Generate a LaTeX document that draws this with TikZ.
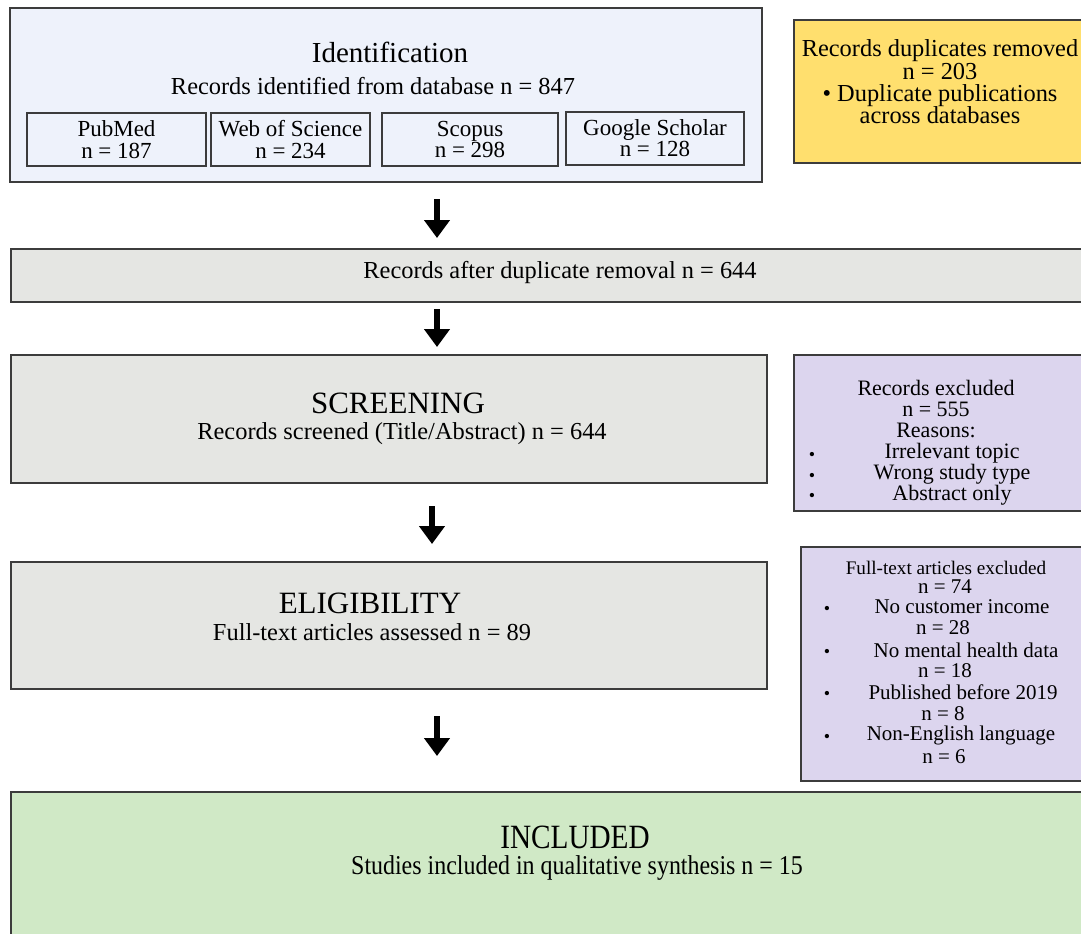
\documentclass[tikz,border=0pt]{standalone}
\usepackage{fontspec}
\setmainfont{Liberation Serif}
\usetikzlibrary{arrows.meta}
\definecolor{boxline}{HTML}{3C3C3C}
\definecolor{idblue}{HTML}{EEF2FB}
\definecolor{dupyellow}{HTML}{FFDF6E}
\definecolor{stagegray}{HTML}{E5E6E3}
\definecolor{exclpurple}{HTML}{DCD5EE}
\definecolor{inclgreen}{HTML}{D0E9C6}
\tikzset{
	stage/.style={draw=boxline, line width=1pt, rectangle, inner sep=0pt},
	dbbox/.style={stage, align=center, font=\fontsize{11.5}{10.8}\selectfont},
	flowarrow/.style={line width=3pt, -{Triangle[width=12.5pt,length=9pt]}},
	bigtitle/.style={font=\fontsize{14.5}{14.5}\selectfont},
	subline/.style={font=\fontsize{12.2}{12.2}\selectfont},
	dot/.style={font=\fontsize{9}{9}\selectfont, inner sep=0pt},
}
\begin{document}
\begin{tikzpicture}[x=0.5pt, y=-0.5pt]
			\useasboundingbox (0,0) rectangle (1081,933);
			%\draw[step=50,gray,very thin] (0,0) grid (1081,933);
			% boxes
			\node[stage, fill=idblue, minimum width=376pt, minimum height=87pt] (id) at (386,95) {};
			\node[stage, fill=dupyellow, minimum width=150.5pt, minimum height=71.5pt] (dup) at (944.5,91.5) {};
			\node[stage, fill=stagegray, minimum width=542pt, minimum height=26.5pt] (after) at (553,275.5) {};
			\node[stage, fill=stagegray, minimum width=378pt, minimum height=64pt] (screen) at (389,419) {};
			\node[stage, fill=exclpurple, minimum width=150.5pt, minimum height=78pt] (excl) at (944.5,433) {};
			\node[stage, fill=stagegray, minimum width=378pt, minimum height=63.5pt] (elig) at (389,625.5) {};
			\node[stage, fill=exclpurple, minimum width=147pt, minimum height=117pt] (ftexcl) at (948,664) {};
			\node[stage, fill=inclgreen, minimum width=542pt, minimum height=84pt] (incl) at (553,876) {};
			% databases
			\node[dbbox, minimum width=89.5pt, minimum height=26.5pt] (pubmed) at (116.5,139.5) {PubMed\\n = 187};
			\node[dbbox, minimum width=79.5pt, minimum height=26.5pt] (wos) at (290.5,139.5) {Web of Science\\n = 234};
			\node[dbbox, minimum width=88pt, minimum height=26.5pt] (scopus) at (470,139.5) {Scopus\\n = 298};
			\node[dbbox, minimum width=89pt, minimum height=26.5pt] (scholar) at (655,138) {Google Scholar\\n = 128};
			% texts
			\node[bigtitle] (idtitle) at (390,52) {Identification};
			\node[subline] (idtext) at (373,86) {Records identified from database n = 847};
			\node[subline, align=center, font=\fontsize{12.2}{11.2}\selectfont] (duptext) at (940,82) {Records duplicates removed\\n = 203\\\textbullet\ Duplicate publications\\across databases};
			\node[subline] (aftertext) at (560,272) {Records after duplicate removal n = 644};
			\node[bigtitle, font=\fontsize{15.5}{15.5}\selectfont] (screentitle) at (398,403) {SCREENING};
			\node[subline] (screentext) at (402,434) {Records screened (Title/Abstract) n = 644};
			\node[bigtitle, font=\fontsize{15.5}{15.5}\selectfont] (eligtitle) at (370,603) {ELIGIBILITY};
			\node[subline] (eligtext) at (372,632) {Full-text articles assessed n = 89};
			\node[inner sep=0pt] (incltitle) at (575,837) {\scalebox{0.86}[1]{\fontsize{17}{17}\selectfont INCLUDED}};
			\node[inner sep=0pt] (incltext) at (577,868) {\scalebox{0.88}[1]{\fontsize{13.6}{13.6}\selectfont Studies included in qualitative synthesis n = 15}};
			% records excluded
			\node[align=center, font=\fontsize{11}{10.5}\selectfont] (excltext) at (936,409) {Records excluded\\n = 555\\Reasons:};
			\node[align=center, font=\fontsize{11}{10.5}\selectfont] (exclitems) at (952,474) {Irrelevant topic\\Wrong study type\\Abstract only};
			\node[dot] (b1) at (812,456) {\textbullet};
			\node[dot] (b2) at (812,477) {\textbullet};
			\node[dot] (b3) at (812,497) {\textbullet};
			% full-text excluded
			\node[font=\fontsize{9.6}{9.6}\selectfont] (fthead) at (946,568) {Full-text articles excluded};
			\node[font=\fontsize{10.5}{10.5}\selectfont] (ftn) at (945,587) {n = 74};
			\node[font=\fontsize{10.5}{10.5}\selectfont] (ft1) at (962,607) {No customer income};
			\node[font=\fontsize{10.5}{10.5}\selectfont] (ft1n) at (943,628) {n = 28};
			\node[font=\fontsize{10.5}{10.5}\selectfont] (ft2) at (966,650) {No mental health data};
			\node[font=\fontsize{10.5}{10.5}\selectfont] (ft2n) at (945,671) {n = 18};
			\node[font=\fontsize{10.5}{10.5}\selectfont] (ft3) at (963,692) {Published before 2019};
			\node[font=\fontsize{10.5}{10.5}\selectfont] (ft3n) at (943,714) {n = 8};
			\node[font=\fontsize{10.5}{10.5}\selectfont] (ft4) at (961,735) {Non-English language};
			\node[font=\fontsize{10.5}{10.5}\selectfont] (ft4n) at (944,757) {n = 6};
			\node[dot] (c1) at (827,610) {\textbullet};
			\node[dot] (c2) at (827,653) {\textbullet};
			\node[dot] (c3) at (827,695) {\textbullet};
			\node[dot] (c4) at (827,738) {\textbullet};
			% arrows
			\coordinate (ax) at (437,0);
			\coordinate (bx) at (432,0);
			\draw[flowarrow] ([yshift=-8pt]id.south -| ax) -- ([yshift=5pt]after.north -| ax);
			\draw[flowarrow] ([yshift=-3pt]after.south -| ax) -- ([yshift=3.5pt]screen.north -| ax);
			\draw[flowarrow] ([yshift=-11pt]screen.south -| bx) -- ([yshift=8.5pt]elig.north -| bx);
			\draw[flowarrow] ([yshift=-13pt]elig.south -| ax) -- ([yshift=17.5pt]incl.north -| ax);
		\end{tikzpicture}
\end{document}
